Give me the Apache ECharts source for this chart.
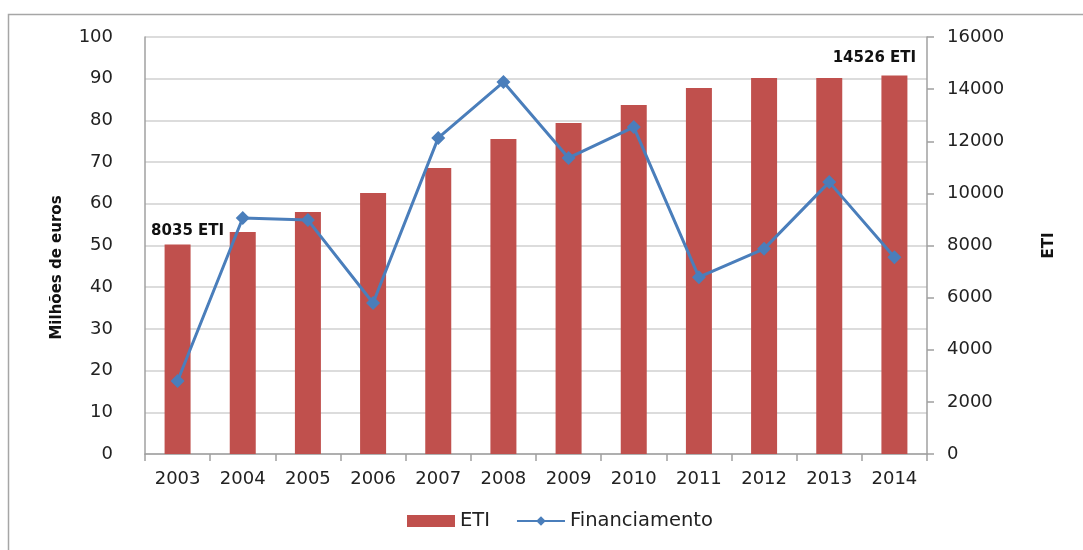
<!DOCTYPE html>
<html>
<head>
<meta charset="utf-8">
<script src="https://cdn.jsdelivr.net/npm/echarts@6/dist/echarts.min.js"></script>
<style>html,body{margin:0;padding:0;background:#fff}#c{width:1083px;height:550px}</style>
</head>
<body>
<div id="c"></div>
<script>
var years = ['2003','2004','2005','2006','2007','2008','2009','2010','2011','2012','2013','2014'];
var eti = [8035, 8520, 9290, 10010, 10970, 12090, 12700, 13390, 14040, 14430, 14430, 14526];
var financiamento = [17.5, 56.6, 56.1, 36.2, 75.8, 89.2, 71.0, 78.4, 42.4, 49.2, 65.2, 47.2];
var leftTicks = [0, 100, 10];
var rightTicks = [0, 16000, 2000];

var FONT = 'DejaVu Sans';
var chart = echarts.init(document.getElementById('c'));
var etiData = eti.map(function (v, i) {
  var d = { value: v };
  if (i === 0) {
    d.label = { show: true, position: 'top', distance: 6, offset: [10, 0], formatter: v + ' ETI' };
  } else if (i === eti.length - 1) {
    d.label = { show: true, position: 'top', distance: 10, offset: [-20, 0], formatter: v + ' ETI' };
  }
  return d;
});
chart.setOption({
  animation: false,
  textStyle: { fontFamily: FONT },
  graphic: [{
    type: 'rect', shape: { x: 8.5, y: 14.5, width: 1100, height: 600 },
    style: { fill: 'none', stroke: '#a6a6a6', lineWidth: 1.5 }, silent: true
  }],
  grid: { left: 145, right: 156, top: 37, bottom: 96 },
  legend: {
    bottom: 14, left: 402, itemWidth: 48, itemHeight: 12, itemGap: 26,
    textStyle: { fontSize: 19.5, color: '#222', fontFamily: FONT },
    data: [
      { name: 'ETI', icon: 'rect' },
      { name: 'Financiamento' }
    ]
  },
  xAxis: {
    type: 'category', data: years,
    axisLine: { lineStyle: { color: '#a0a0a0', width: 1.5 } },
    axisTick: { show: true, length: 7, lineStyle: { color: '#a0a0a0', width: 1.5 } },
    axisLabel: { fontSize: 18, color: '#222', margin: 16, fontFamily: FONT }
  },
  yAxis: [{
    type: 'value', min: leftTicks[0], max: leftTicks[1], interval: leftTicks[2],
    name: 'Milhões de euros', nameLocation: 'middle', nameGap: 80, nameRotate: 90,
    nameTextStyle: { fontSize: 15, fontWeight: 'bold', color: '#111', fontFamily: FONT, padding: [0, 44, 0, 0] },
    axisLine: { show: true, lineStyle: { color: '#a0a0a0', width: 1.5 } },
    axisTick: { show: false },
    axisLabel: { fontSize: 18, color: '#222', margin: 32, fontFamily: FONT },
    splitLine: { lineStyle: { color: '#d0d0d0', width: 1.5 } }
  }, {
    type: 'value', min: rightTicks[0], max: rightTicks[1], interval: rightTicks[2],
    name: 'ETI', nameLocation: 'middle', nameGap: 115, nameRotate: 90,
    nameTextStyle: { fontSize: 15, fontWeight: 'bold', color: '#111', fontFamily: FONT },
    axisLine: { show: true, lineStyle: { color: '#a0a0a0', width: 1.5 } },
    axisTick: { show: true, length: 7, inside: false, lineStyle: { color: '#a0a0a0', width: 1.5 } },
    axisLabel: { fontSize: 18, color: '#222', margin: 20, fontFamily: FONT,
      formatter: function (v) { return String(v); } },
    splitLine: { show: false }
  }],
  series: [{
    name: 'ETI', type: 'bar', yAxisIndex: 1, data: etiData, barWidth: 26,
    itemStyle: { color: '#C0504D' },
    label: { show: false, fontSize: 15, fontWeight: 'bold', color: '#111', fontFamily: FONT }
  }, {
    name: 'Financiamento', type: 'line', yAxisIndex: 0, data: financiamento,
    symbol: 'diamond', symbolSize: 14, showAllSymbol: true,
    lineStyle: { color: '#4A7EBB', width: 3 },
    itemStyle: { color: '#4A7EBB' }
  }]
});
</script>
</body>
</html>
